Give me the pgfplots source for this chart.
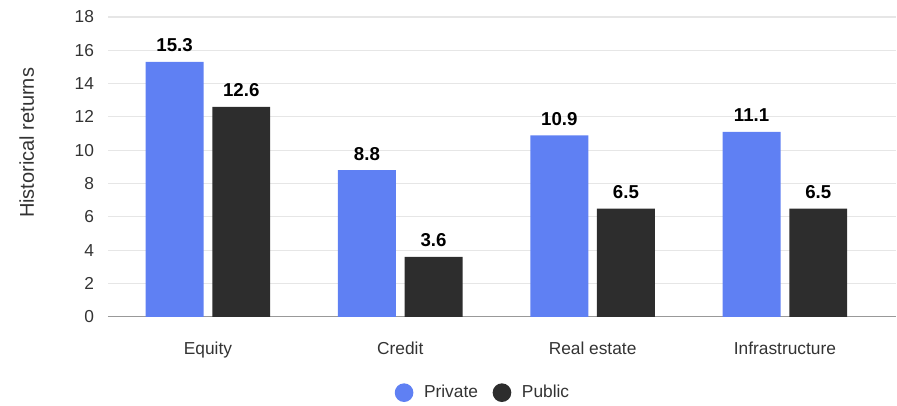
\documentclass[border=0pt]{standalone}
\usepackage{pgfplots}
\pgfplotsset{compat=1.18}
\usepackage{fontspec}
\setmainfont{Liberation Sans}
\definecolor{privblue}{HTML}{5F80F3}
\definecolor{pubdark}{HTML}{2D2D2D}
\definecolor{gridgray}{HTML}{E6E6E6}
\definecolor{txtgray}{HTML}{333333}
\begin{document}
\begin{tikzpicture}
\begin{axis}[
  at={(0,0)}, anchor=south west,
  scale only axis,
  width=591.75pt, height=225pt,
  ybar, bar width=43.5pt,
  xmin=-0.52, xmax=3.58,
  ymin=0, ymax=18,
  ytick={0,2,...,18},
  xtick={0,1,2,3},
  xticklabels={Equity,Credit,Real estate,Infrastructure},
  ymajorgrids, grid style={gridgray, line width=0.8pt},
  axis x line*=bottom, axis y line*=left,
  y axis line style={draw=none},
  x axis line style={-, draw=gray!80, line width=0.8pt},
  major tick length=0pt,
  tick style={draw=none},
  /pgf/number format/assume math mode=true,
  yticklabel style={xshift=-7pt, font=\fontsize{13pt}{15pt}\selectfont, text=txtgray},
  xticklabel style={yshift=-15pt, font=\fontsize{13pt}{15pt}\selectfont, text=txtgray},
  ylabel={Historical returns},
  every axis y label/.style={at={(axis description cs:0,0.5)}, rotate=90, anchor=center, yshift=61pt, xshift=18pt, font=\fontsize{15pt}{17pt}\selectfont, text=txtgray},
  nodes near coords,
  every node near coord/.append style={font=\bfseries\fontsize{14pt}{16pt}\selectfont, text=black, yshift=4pt},
  nodes near coords style={/pgf/number format/fixed, /pgf/number format/precision=1, /pgf/number format/fixed zerofill},
  legend style={at={(0.476,-0.253)}, anchor=center, draw=none, legend columns=2, font=\fontsize{13pt}{15pt}\selectfont, text=txtgray, /tikz/every even column/.append style={column sep=9pt}},
  legend cell align=left,
]
\addplot[draw=none, fill=privblue, bar shift=-25pt,
  legend image code/.code={\fill[privblue] (7pt,0pt) circle (7pt); \path[draw=none, fill=none] (0pt,0pt) rectangle (20pt,1pt);}]
  coordinates {(0,15.3) (1,8.8) (2,10.9) (3,11.1)};
\addlegendentry{Private}
\addplot[draw=none, fill=pubdark, bar shift=25pt,
  legend image code/.code={\fill[pubdark] (7pt,0pt) circle (7pt); \path[draw=none, fill=none] (0pt,0pt) rectangle (20pt,1pt);}]
  coordinates {(0,12.6) (1,3.6) (2,6.5) (3,6.5)};
\addlegendentry{Public}
\end{axis}
\path[use as bounding box] (-81pt,-65.25pt) rectangle (591.75pt,237.75pt);
\end{tikzpicture}
\end{document}
